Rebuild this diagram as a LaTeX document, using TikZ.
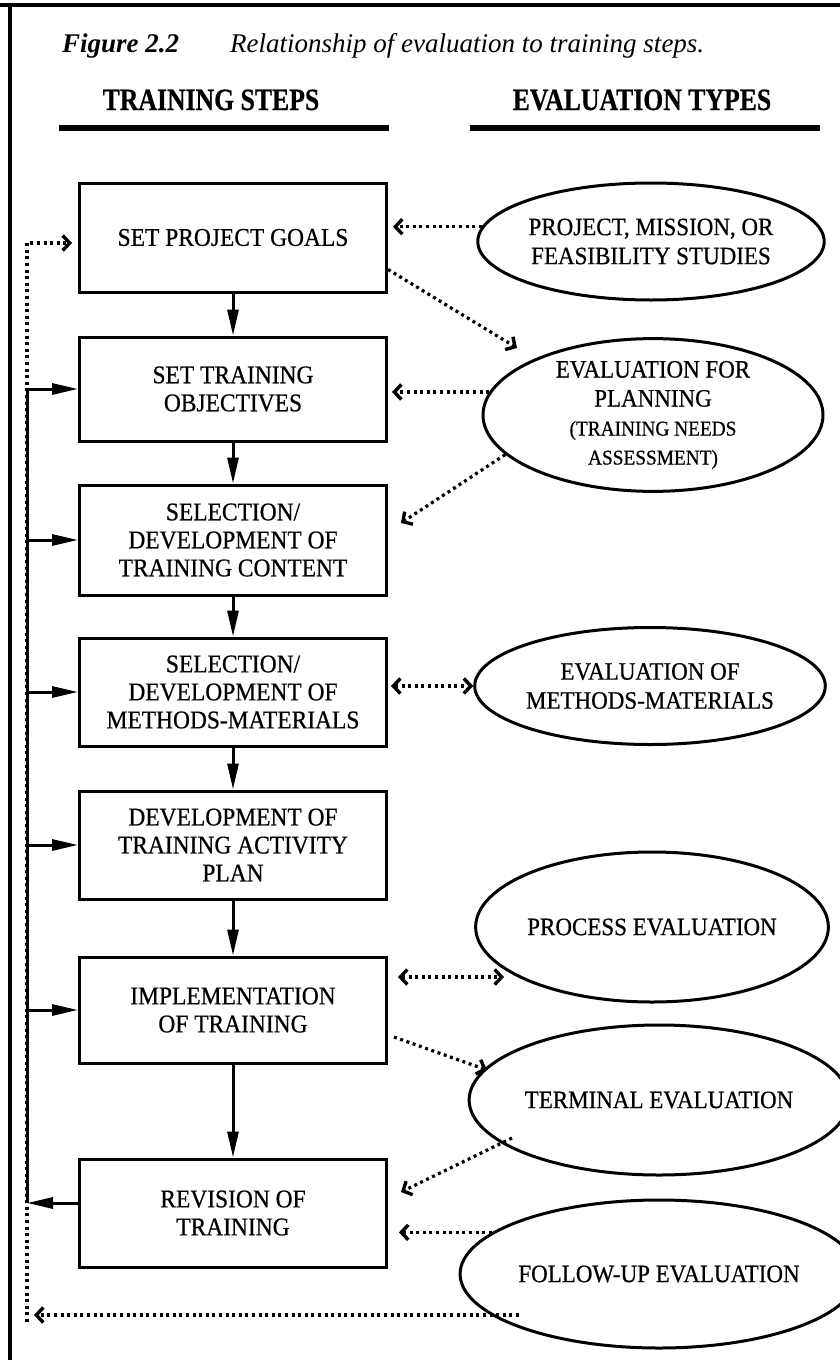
\documentclass[tikz,border=0pt]{standalone}
\usepackage{fontspec}
\setmainfont{Liberation Serif}
\newfontfamily\headfont[FakeStretch=0.83,FakeBold=0.5]{Liberation Serif}
\newfontfamily\boxfont[FakeStretch=0.92,FakeBold=0.6]{Liberation Serif}
\usetikzlibrary{arrows.meta,shapes.geometric,calc}
\newcommand{\smtxt}{\fontsize{21}{25}\selectfont}
\begin{document}
\begin{tikzpicture}[x=1pt,y=-1pt,
  stepbox/.style={draw,line width=3pt,minimum width=307pt,minimum height=108pt,inner sep=0pt,align=center,font=\boxfont\fontsize{25.5}{28}\selectfont},
  evalell/.style={ellipse,draw,line width=3pt,inner sep=0pt,align=center,font=\boxfont\fontsize{25}{29}\selectfont},
  flow/.style={line width=3pt,-{Triangle[length=26pt,width=11pt]}},
  dots/.style={line width=3.2pt,dash pattern=on 3pt off 3.6pt},
  barb/.style={},
  dotarr/.style={dots,-{Straight Barb[length=7pt,width=15pt,line width=3.4pt]}},
  dotboth/.style={dots,{Straight Barb[length=7pt,width=15pt,line width=3.4pt]}-{Straight Barb[length=7pt,width=15pt,line width=3.4pt]}},
  frame/.style={line width=4pt},
  bar/.style={line width=6pt}
]
\useasboundingbox (0,0) rectangle (840,1360);
\fill[white] (0,0) rectangle (840,1360);
% frame
\draw[frame] (0,5) -- (840,5);
\draw[frame] (10,5) -- (10,1360);
% title
\node[anchor=base west,inner sep=0pt,font=\fontsize{27}{30}\selectfont\bfseries\itshape] (fig) at (62,52) {Figure 2.2};
\node[anchor=base west,inner sep=0pt,font=\fontsize{27}{30}\selectfont\itshape] (cap) at (230,52) {Relationship of evaluation to training steps.};
% headings
\node[anchor=base,inner sep=0pt,font=\headfont\fontsize{31}{34}\selectfont\bfseries] (h1) at (211,110) {TRAINING STEPS};
\node[anchor=base,inner sep=0pt,font=\headfont\fontsize{31}{34}\selectfont\bfseries] (h2) at (642,110) {EVALUATION TYPES};
\draw[bar] (59,128) -- (389,128);
\draw[bar] (470,128) -- (820,128);
% training steps
\node[stepbox,minimum height=109pt] (b1) at (233,237.5) {SET PROJECT GOALS};
\node[stepbox,minimum height=104pt] (b2) at (233,389) {SET TRAINING\\OBJECTIVES};
\node[stepbox,minimum height=110pt] (b3) at (233,540) {SELECTION/\\DEVELOPMENT OF\\TRAINING CONTENT};
\node[stepbox] (b4) at (233,692) {SELECTION/\\DEVELOPMENT OF\\METHODS-MATERIALS};
\node[stepbox] (b5) at (233,845) {DEVELOPMENT OF\\TRAINING ACTIVITY\\PLAN};
\node[stepbox,minimum height=106pt] (b6) at (233,1010) {IMPLEMENTATION\\OF TRAINING};
\node[stepbox] (b7) at (233,1213) {REVISION OF\\TRAINING};
% evaluation types
\node[evalell,minimum width=342pt,minimum height=117pt] (e1) at (651,241.5) {PROJECT, MISSION, OR\\FEASIBILITY STUDIES};
\node[evalell,minimum width=340pt,minimum height=150pt] (e2) at (653,415) {EVALUATION FOR\\PLANNING\\{\smtxt (TRAINING NEEDS}\\{\smtxt ASSESSMENT)}};
\node[evalell,minimum width=345pt,minimum height=117pt] (e3) at (650,686) {EVALUATION OF\\METHODS-MATERIALS};
\node[evalell,minimum width=340pt,minimum height=150pt] (e4) at (652,927) {PROCESS EVALUATION};
\node[evalell,minimum width=338pt,minimum height=150pt] (e5) at (659,1100) {TERMINAL EVALUATION};
\node[evalell,minimum width=338pt,minimum height=148pt] (e6) at (659,1274) {FOLLOW-UP EVALUATION};
% feedback coordinates
\coordinate (fbtop) at (27,243);
\coordinate (fbbot) at (27,1322);
\coordinate (fb7) at (27,1203);
% dotted feedback (drawn first, solid line on top)
\draw[dotarr,shorten >=6pt] (fbbot) -- (fbtop) -- ($(b1.west)+(0,5.5)$);
\coordinate (e6out) at ($(e6.center)+(-140,41)$);
\draw[dotarr,shorten >=7pt] (e6out) -- (e6out -| fbbot);
% solid flow between steps
\draw[flow] (b1) -- (b2);
\draw[flow] (b2) -- (b3);
\draw[flow] (b3) -- (b4);
\draw[flow] (b4) -- (b5);
\draw[flow] (b5) -- (b6);
\draw[flow] (b6) -- (b7);
% solid feedback loop
\draw[flow] ($(b7.west)+(0,-10)$) -- (fb7);
\draw[flow] (fb7) |- (b2.west);
\draw[flow] (fb7 |- b3.west) -- (b3.west);
\draw[flow] (fb7 |- b4.west) -- (b4.west);
\draw[flow] (fb7 |- b5.west) -- (b5.west);
\draw[flow] (fb7 |- b6.west) -- (b6.west);
% dotted evaluation links
\draw[dotarr,shorten >=5pt] (e1.175) -- (e1.175 -| b1.east);
\draw[dotarr] ($(b1.south east)+(0,-24)$) -- ($(e2.center)+(-136,-67)$);
\draw[dotarr,shorten >=4pt] (e2.172) -- (e2.172 -| b2.east);
\draw[dotarr] (e2.195) -- ($(b3.east)+(13,-17)$);
\draw[dotboth,shorten >=0pt,shorten <=3pt] (e3.west -| b4.east) -- (e3.west);
\coordinate (p4a) at ($(b6.east)+(10,-33)$);
\coordinate (p4b) at ($(b6.east)+(116,-33)$);
\draw[dotboth] (p4a) -- (p4b);
\draw[dotarr] ($(b6.east)+(6,27)$) -- ($(e5.center)+(-172,-30)$);
\draw[dotarr] ($(e5.center)+(-147,38)$) -- ($(b7.east)+(13,-21)$);
\draw[dotarr,shorten >=11pt] (e6.166) -- (e6.166 -| b7.east);
\end{tikzpicture}
\end{document}
